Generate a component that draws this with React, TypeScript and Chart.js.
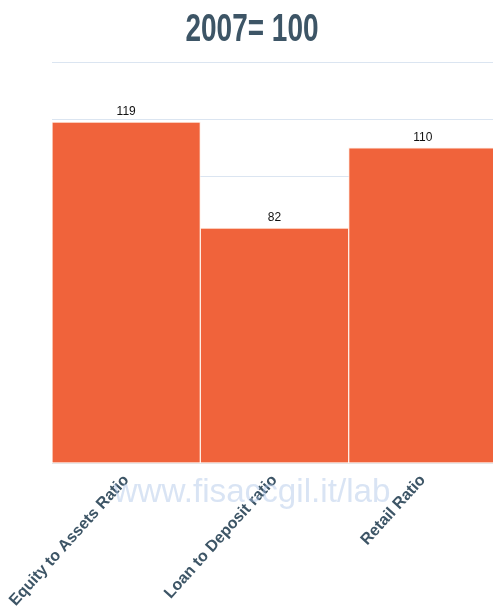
import React, { useEffect, useRef } from "react";
import { Chart, registerables } from "chart.js";

Chart.register(...registerables);

const categories = ["Equity to Assets Ratio", "Loan to Deposit ratio", "Retail Ratio"];
const values = [119, 82, 110];
const titleText = "2007= 100";
const watermarkText = "www.fisaccgil.it/lab";

export default function App() {
  const ref = useRef<HTMLCanvasElement>(null);
  useEffect(() => {
    document.body.style.margin = "0";
    const ctx = ref.current!.getContext("2d")!;
    const overlay = {
      id: "overlay",
      afterDatasetsDraw(chart: any) {
        const c = chart.ctx;
        const meta = chart.getDatasetMeta(0);
        c.save();
        c.font = "12px 'Liberation Sans', Arial, sans-serif";
        c.fillStyle = "#111";
        c.textAlign = "center";
        c.textBaseline = "bottom";
        meta.data.forEach((bar: any, i: number) => {
          c.fillText(String(values[i]), bar.x, bar.y - 4);
        });
        c.restore();
        // title, horizontally condensed
        c.save();
        c.font = "bold 39px 'Liberation Sans', Arial, sans-serif";
        const tw = c.measureText(titleText).width;
        const sx = 133 / tw;
        c.fillStyle = "#3d5566";
        c.textAlign = "center";
        c.textBaseline = "alphabetic";
        c.translate(252, 41);
        c.scale(sx, 1);
        c.fillText(titleText, 0, 0);
        c.restore();
      },
      afterDraw(chart: any) {
        const c = chart.ctx;
        c.save();
        c.font = "36px 'Liberation Sans', Arial, sans-serif";
        const w = c.measureText(watermarkText).width;
        const size = 36 * 277 / w;
        c.font = `${size}px 'Liberation Sans', Arial, sans-serif`;
        c.fillStyle = "rgba(170, 195, 230, 0.45)";
        c.textAlign = "center";
        c.textBaseline = "alphabetic";
        c.fillText(watermarkText, 252, 502);
        c.restore();
      },
    };
    const chart = new Chart(ctx, {
      type: "bar",
      data: {
        labels: categories,
        datasets: [
          {
            data: values,
            backgroundColor: "#f0633b",
            borderColor: "rgba(255,235,225,0.9)",
            borderWidth: 1,
            barPercentage: 1,
            categoryPercentage: 1,
          },
        ],
      },
      options: {
        animation: false,
        responsive: false,
        maintainAspectRatio: false,
        layout: { padding: { left: 52, right: 0, top: 62, bottom: 0 } },
        plugins: { legend: { display: false }, title: { display: false }, tooltip: { enabled: false } },
        scales: {
          x: {
            grid: { display: false },
            border: { display: true, color: "#e6e6e6" },
            ticks: {
              maxRotation: 48,
              minRotation: 48,
              color: "#3d5566",
              font: { family: "'Liberation Sans', Arial, sans-serif", size: 16, weight: "bold" },
              padding: 0,
            },
            afterFit: (s: any) => {
              s.height = 150;
            },
          },
          y: {
            display: true,
            min: 0,
            max: 140,
            ticks: { display: false, stepSize: 20 },
            grid: { color: "#dbe5f1", drawTicks: false, lineWidth: 1 },
            border: { display: false },
            afterFit: (s: any) => {
              s.width = 0;
            },
          },
        },
      },
      plugins: [overlay],
    });
    return () => chart.destroy();
  }, []);
  return (
    <div style={{ width: 493, height: 613, overflow: "hidden" }}>
      <canvas ref={ref} width={497} height={613} style={{ display: "block" }} />
    </div>
  );
}
